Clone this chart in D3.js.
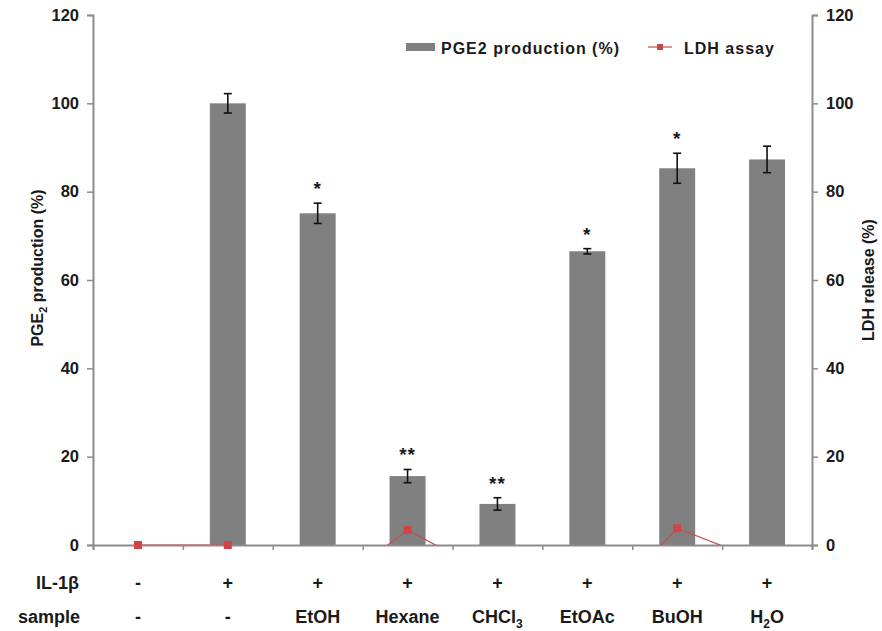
<!DOCTYPE html>
<html>
<head>
<meta charset="utf-8">
<script src="https://cdn.jsdelivr.net/npm/d3@7/dist/d3.min.js"></script>
<style>
  html, body { margin: 0; padding: 0; background: #fff; }
  svg { display: block; font-family: "Liberation Sans", Arial, sans-serif; font-weight: bold; }
</style>
</head>
<body>
<svg id="chart" width="882" height="631"></svg>
<script>
// Treatment groups (one bar per group)
const categories = ["ctrl", "il1b", "EtOH", "Hexane", "CHCl3", "EtOAc", "BuOH", "H2O"];
// PGE2 production (% of IL-1β control) and its error
const pgeValues = [0, 100, 75.1, 15.6, 9.3, 66.5, 85.3, 87.3];
const pgeErrors = [0, 2.2, 2.3, 1.5, 1.4, 0.6, 3.4, 3.0];
// Significance marks above the bars
const significance = ["", "", "*", "**", "**", "*", "*", ""];
// LDH release (%) — negative values fall below the axis and are clipped
const ldhValues = [0, 0, -12, 3.4, -7.5, -18, 3.8, -4.2];
// Rows of the treatment table under the axis
const il1bRow = ["-", "+", "+", "+", "+", "+", "+", "+"];
const sampleRow = ["-", "-", "EtOH", "Hexane", "CHCl|3", "EtOAc", "BuOH", "H|2|O"];
const yTicks = [0, 20, 40, 60, 80, 100, 120];

const svg = d3.select("#chart");
const mLeft = 93, mRight = 812, mTop = 15, mBottom = 545;

const x = d3.scaleBand().domain(categories).range([mLeft, mRight]).paddingInner(0.6).paddingOuter(0.3);
const y = d3.scaleLinear().domain([0, 120]).range([mBottom, mTop]);
const y2 = d3.scaleLinear().domain([0, 120]).range([mBottom, mTop]);
const cx = d => x(d) + x.bandwidth() / 2;

const axisColor = "#8c8c8c";
const textColor = "#1a1a1a";

svg.append("defs").append("clipPath").attr("id", "plotClip")
  .append("rect").attr("x", mLeft).attr("y", mTop - 5).attr("width", mRight - mLeft).attr("height", mBottom - mTop + 5);

// Bars
svg.append("g").selectAll("rect").data(categories).join("rect")
  .attr("x", d => x(d))
  .attr("width", x.bandwidth())
  .attr("y", (d, i) => y(pgeValues[i]))
  .attr("height", (d, i) => y(0) - y(pgeValues[i]))
  .attr("fill", "#808080");

// Error bars
const eg = svg.append("g").attr("stroke", "#111").attr("stroke-width", 1.6);
categories.forEach((c, i) => {
  if (!pgeErrors[i]) return;
  const hi = y(pgeValues[i] + pgeErrors[i]), lo = y(pgeValues[i] - pgeErrors[i]);
  eg.append("line").attr("x1", cx(c)).attr("x2", cx(c)).attr("y1", hi).attr("y2", lo);
  eg.append("line").attr("x1", cx(c) - 4).attr("x2", cx(c) + 4).attr("y1", hi).attr("y2", hi);
  eg.append("line").attr("x1", cx(c) - 4).attr("x2", cx(c) + 4).attr("y1", lo).attr("y2", lo);
});

// Significance stars
svg.append("g").selectAll("text").data(categories).join("text")
  .attr("x", d => cx(d))
  .attr("y", (d, i) => y(pgeValues[i] + pgeErrors[i]) - 8)
  .attr("text-anchor", "middle")
  .attr("font-size", 19)
  .attr("letter-spacing", 1)
  .attr("fill", textColor)
  .text((d, i) => significance[i]);

// Left axis
const yAxisL = svg.append("g").attr("transform", `translate(${mLeft},0)`)
  .call(d3.axisLeft(y).tickValues(yTicks).tickSize(6).tickPadding(8));
// Right axis
const yAxisR = svg.append("g").attr("transform", `translate(${mRight},0)`)
  .call(d3.axisRight(y2).tickValues(yTicks).tickSize(6).tickPadding(8));
// Bottom axis (ticks at band boundaries)
const boundaries = categories.map(c => x(c) - x.step() * x.paddingInner() / 2).concat([mRight]);
const xb = d3.scaleLinear().domain([mLeft, mRight]).range([mLeft, mRight]);
const xAxis = svg.append("g").attr("transform", `translate(0,${mBottom})`)
  .call(d3.axisBottom(xb).tickValues(boundaries).tickSize(5).tickFormat(""));

[yAxisL, yAxisR, xAxis].forEach(g => {
  g.select(".domain").attr("stroke", axisColor).attr("stroke-width", 2);
  g.selectAll(".tick line").attr("stroke", axisColor).attr("stroke-width", 1.5);
  g.selectAll(".tick text").attr("fill", textColor).attr("font-size", 16.5)
    .attr("font-family", "Liberation Sans, Arial, sans-serif").attr("font-weight", "bold");
});

// LDH line (clipped to the plotting area) + markers for the points on or above the axis
const ldhLine = d3.line().x((d, i) => cx(categories[i])).y(d => y2(d));
svg.append("g").attr("clip-path", "url(#plotClip)")
  .append("path").datum(ldhValues).attr("d", ldhLine)
  .attr("fill", "none").attr("stroke", "#c0504d").attr("stroke-width", 1.2);
svg.append("g").selectAll("rect")
  .data(ldhValues.map((v, i) => ({ v, c: categories[i] })).filter(d => d.v >= 0))
  .join("rect")
  .attr("x", d => cx(d.c) - 4)
  .attr("y", d => y2(d.v) - 4)
  .attr("width", 8).attr("height", 8)
  .attr("fill", "#cf4545");

// Axis titles
const lt = svg.append("text")
  .attr("transform", `translate(43,${(mTop + mBottom) / 2 - 12}) rotate(-90)`)
  .attr("text-anchor", "middle").attr("font-size", 16).attr("fill", textColor);
lt.append("tspan").text("PGE");
lt.append("tspan").attr("font-size", 11).attr("dy", 4).text("2");
lt.append("tspan").attr("dy", -4).text(" production (%)");

svg.append("text")
  .attr("transform", `translate(874,${(mTop + mBottom) / 2}) rotate(-90)`)
  .attr("text-anchor", "middle").attr("font-size", 16).attr("fill", textColor)
  .text("LDH release (%)");

// Legend
const leg = svg.append("g");
leg.append("rect").attr("x", 406).attr("y", 43).attr("width", 29).attr("height", 8).attr("fill", "#808080");
leg.append("text").attr("x", 441).attr("y", 54).attr("font-size", 16).attr("letter-spacing", 1).attr("fill", textColor)
  .text("PGE2 production (%)");
leg.append("line").attr("x1", 648).attr("x2", 672).attr("y1", 47).attr("y2", 47)
  .attr("stroke", "#c0504d").attr("stroke-width", 1.2);
leg.append("rect").attr("x", 657).attr("y", 44).attr("width", 6).attr("height", 6).attr("fill", "#c04848");
leg.append("text").attr("x", 684).attr("y", 54).attr("font-size", 16).attr("letter-spacing", 1).attr("fill", textColor)
  .text("LDH assay");

// Treatment table under the axis
function rowText(g, xPos, s, yy) {
  const t = g.append("text").attr("x", xPos).attr("y", yy).attr("text-anchor", "middle")
    .attr("font-size", 18).attr("fill", textColor);
  const parts = s.split("|");
  parts.forEach((p, k) => {
    if (k % 2 === 1) t.append("tspan").attr("font-size", 12).attr("dy", 5).text(p);
    else t.append("tspan").attr("dy", k ? -5 : 0).text(p);
  });
}
const tbl = svg.append("g");
tbl.append("text").attr("x", 79).attr("y", 589).attr("text-anchor", "end").attr("font-size", 18)
  .attr("fill", textColor).text("IL-1β");
tbl.append("text").attr("x", 80).attr("y", 623).attr("text-anchor", "end").attr("font-size", 18)
  .attr("fill", textColor).text("sample");
categories.forEach((c, i) => {
  rowText(tbl, cx(c), il1bRow[i], 589);
  rowText(tbl, cx(c), sampleRow[i], 623);
});
</script>
</body>
</html>
